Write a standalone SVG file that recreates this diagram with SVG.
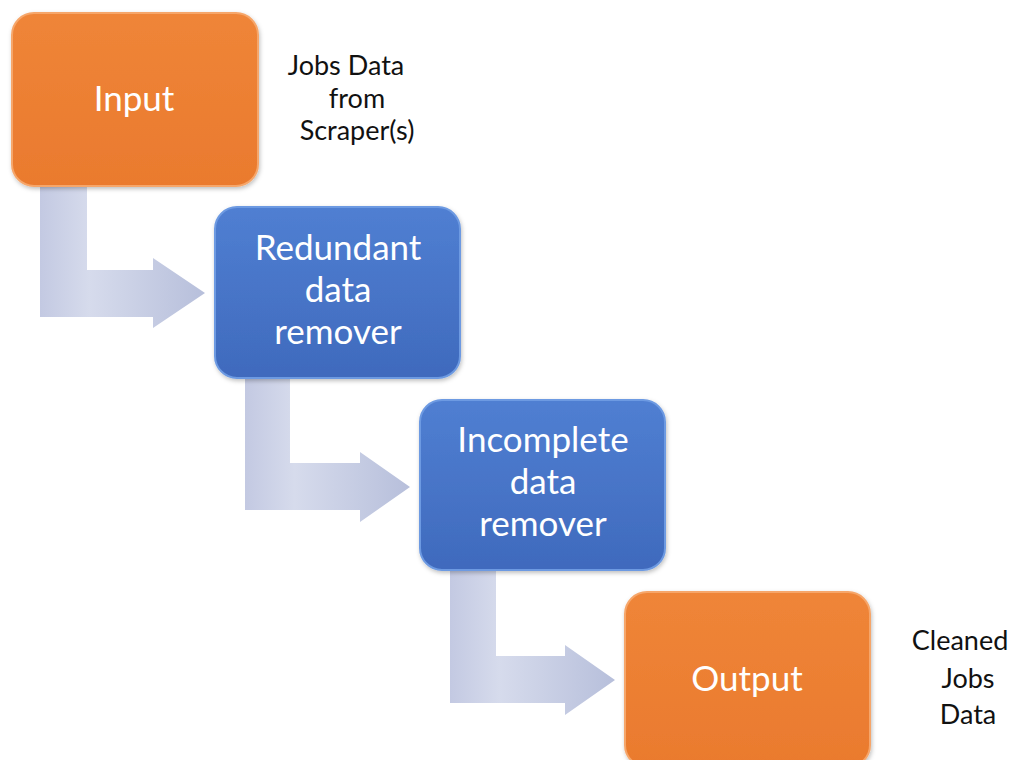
<svg xmlns="http://www.w3.org/2000/svg" width="1019" height="760" viewBox="0 0 1019 760">
  <defs>
    <linearGradient id="gOrange" x1="0" y1="0" x2="0" y2="1">
      <stop offset="0" stop-color="#ef8538"/>
      <stop offset="1" stop-color="#ea7a2e"/>
    </linearGradient>
    <linearGradient id="gBlue" x1="0" y1="0" x2="0" y2="1">
      <stop offset="0" stop-color="#507fd2"/>
      <stop offset="1" stop-color="#3f6abd"/>
    </linearGradient>
    <linearGradient id="gArrow" x1="0" y1="0" x2="1" y2="0">
      <stop offset="0" stop-color="#c3c9e2"/>
      <stop offset="0.3" stop-color="#d6dbec"/>
      <stop offset="1" stop-color="#b7bfdb"/>
    </linearGradient>
    <filter id="sh" x="-10%" y="-10%" width="125%" height="125%">
      <feDropShadow dx="1" dy="2" stdDeviation="2" flood-color="#000" flood-opacity="0.25"/>
    </filter>
  </defs>
  <style>
    .orange { fill: url(#gOrange); stroke: #f6a66a; stroke-width: 2; }
    .blue { fill: url(#gBlue); stroke: #6d9ae2; stroke-width: 2; }
    .lbl { font-family: Lato, "Open Sans", sans-serif; font-size: 35px; fill: #ffffff; text-anchor: middle; }
    .side { font-family: Lato, "Open Sans", sans-serif; font-size: 27px; fill: #111111; text-anchor: middle; }
    .arrow { fill: url(#gArrow); }
  </style>
  <rect width="1019" height="760" fill="#ffffff"/>

  <g id="connectors">
    <path class="arrow" d="M40,180 L87,180 L87,270 L153,270 L153,258 L205,293 L153,328 L153,317 L40,317 Z"/>
    <path class="arrow" d="M245,372 L290,372 L290,463 L360,463 L360,452 L410,487 L360,522 L360,510 L245,510 Z"/>
    <path class="arrow" d="M450,565 L496,565 L496,656 L565,656 L565,645 L615,680 L565,715 L565,703 L450,703 Z"/>
  </g>

  <g id="node-input">
    <rect class="orange" x="12" y="13" width="246" height="173" rx="22" filter="url(#sh)"/>
    <text class="lbl" x="134" y="111">Input</text>
  </g>
  <g id="label-input">
    <text class="side" x="346" y="75">Jobs Data</text>
    <text class="side" x="357" y="108">from</text>
    <text class="side" x="357" y="140">Scraper(s)</text>
  </g>

  <g id="node-redundant">
    <rect class="blue" x="215" y="207" width="245" height="171" rx="22" filter="url(#sh)"/>
    <text class="lbl" x="338" y="260">Redundant</text>
    <text class="lbl" x="338" y="302">data</text>
    <text class="lbl" x="338" y="344">remover</text>
  </g>

  <g id="node-incomplete">
    <rect class="blue" x="420" y="400" width="245" height="170" rx="22" filter="url(#sh)"/>
    <text class="lbl" x="543" y="452">Incomplete</text>
    <text class="lbl" x="543" y="494">data</text>
    <text class="lbl" x="543" y="536">remover</text>
  </g>

  <g id="node-output">
    <rect class="orange" x="625" y="592" width="245" height="175" rx="22" filter="url(#sh)"/>
    <text class="lbl" x="747" y="691">Output</text>
  </g>
  <g id="label-output">
    <text class="side" x="960" y="650">Cleaned</text>
    <text class="side" x="968" y="688">Jobs</text>
    <text class="side" x="968" y="724">Data</text>
  </g>
</svg>
